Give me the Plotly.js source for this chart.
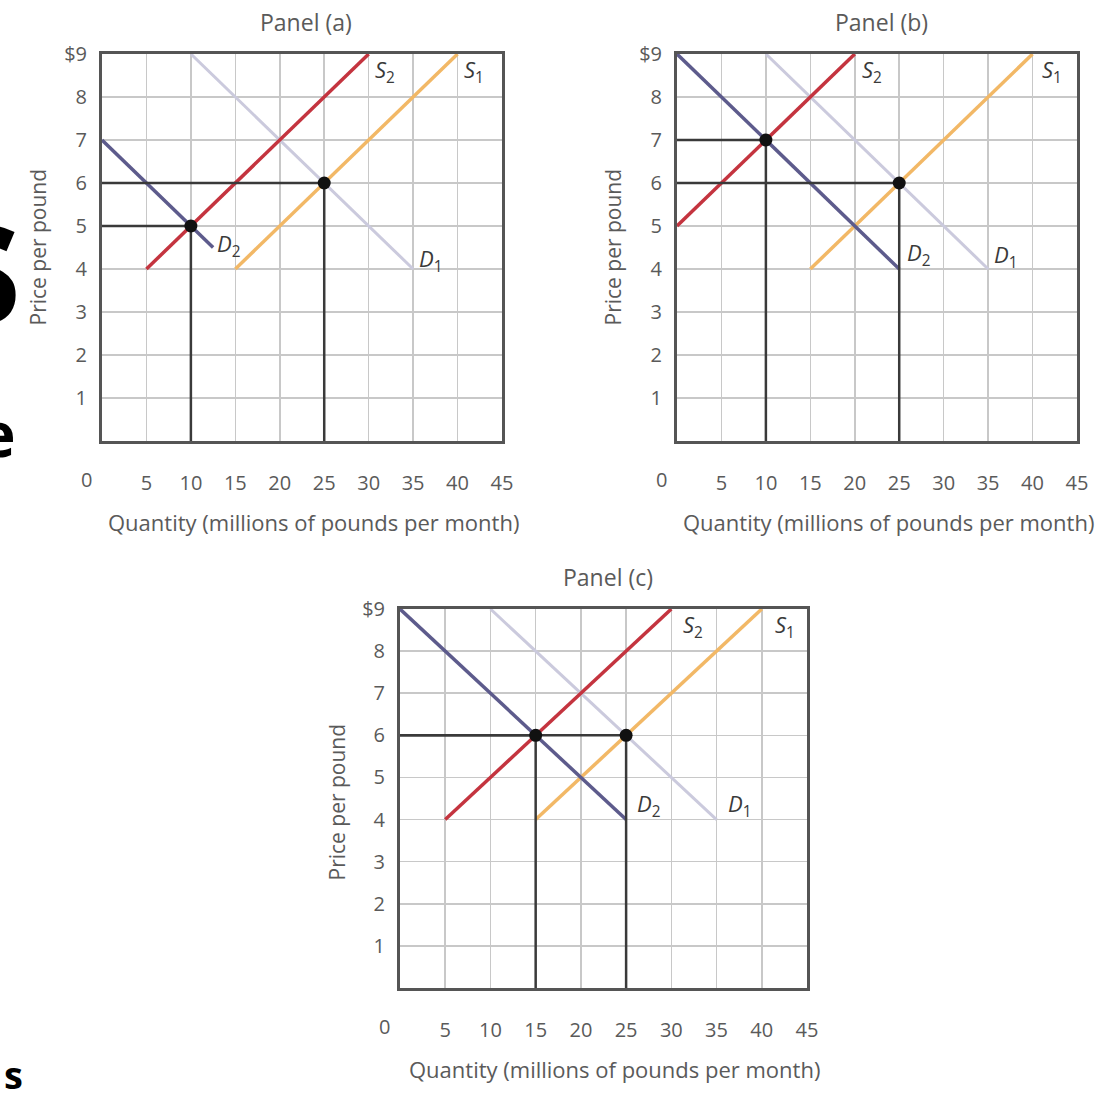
<!DOCTYPE html>
<html>
<head>
<meta charset="utf-8">
<script src="https://cdn.plot.ly/plotly-3.0.1.min.js"></script>
<style>
html,body{margin:0;padding:0;background:#fff;}
#chart{width:1096px;height:1093px;}
</style>
</head>
<body>
<div id="chart"></div>
<script>
// ---------------- DATA ----------------
const panelTitles = ['Panel (a)', 'Panel (b)', 'Panel (c)'];
const xTickVals = [5, 10, 15, 20, 25, 30, 35, 40, 45];
const xTickText = ['5', '10', '15', '20', '25', '30', '35', '40', '45'];
const yTickVals = [1, 2, 3, 4, 5, 6, 7, 8, 9];
const yTickText = ['1', '2', '3', '4', '5', '6', '7', '8', '$9'];
const xTitle = 'Quantity (millions of pounds per month)';
const yTitle = 'Price per pound';

// Supply S1 (same in all panels)
const s1Q = [[15, 40], [15, 40], [15, 40]];
const s1P = [[4, 9], [4, 9], [4, 9]];
// Supply S2
const s2Q = [[5, 30], [0, 20], [5, 30]];
const s2P = [[4, 9], [5, 9], [4, 9]];
// Demand D1 (same in all panels)
const d1Q = [[10, 35], [10, 35], [10, 35]];
const d1P = [[9, 4], [9, 4], [9, 4]];
// Demand D2
const d2Q = [[0, 12.5], [0, 25], [0, 25]];
const d2P = [[7, 4.5], [9, 4], [9, 4]];
// Equilibrium points
const eqQ = [[10, 25], [10, 25], [15, 25]];
const eqP = [[5, 6], [7, 6], [6, 6]];

// ---------------- LAYOUT HELPERS ----------------
const W = 1096, H = 1093;
const px = v => v / W;
const py = v => 1 - v / H;
// plot areas in pixels [left,right], [top,bottom]
const boxX = [[102, 502], [677, 1077], [400, 807]];
const boxY = [[54, 441], [54, 441], [609, 988]];
const labelPos = [
  {S2: [31.8, 8.6], S1: [41.8, 8.6], D2: [14.3, 4.55], D1: [37, 4.2]},
  {S2: [21.9, 8.6], S1: [42.2, 8.6], D2: [27.2, 4.35], D1: [37, 4.3]},
  {S2: [32.4, 8.6], S1: [42.6, 8.6], D2: [27.5, 4.35], D1: [37.6, 4.35]}
];

const fontFam = '"Open Sans", "Noto Sans", sans-serif';
const cS1 = '#f2b866', cS2 = '#c4343f', cD1 = '#cbcadd', cD2 = '#5d5b8c', cRef = '#3a3a3a';
const tickCol = '#5a5a5a', titleCol = '#5a5a5a';

const traces = [];
const annotations = [];
const layout = {
  width: W, height: H,
  margin: {l: 0, r: 0, t: 0, b: 0},
  paper_bgcolor: '#ffffff', plot_bgcolor: '#ffffff',
  showlegend: false,
  font: {family: fontFam, color: tickCol},
  annotations: annotations
};

for (let i = 0; i < 3; i++) {
  const sfx = i === 0 ? '' : String(i + 1);
  const xa = 'x' + sfx, ya = 'y' + sfx;
  layout['xaxis' + sfx] = {
    domain: [px(boxX[i][0]), px(boxX[i][1])],
    range: [0, 45], anchor: ya, fixedrange: true,
    tickvals: xTickVals, ticktext: xTickText,
    showgrid: true, gridcolor: '#c8c8c8', gridwidth: 1.5,
    showline: true, linecolor: '#555555', linewidth: 3, mirror: true,
    zeroline: false, ticks: '', ticklabelstandoff: 22,
    tickfont: {family: fontFam, size: 20, color: tickCol}
  };
  layout['yaxis' + sfx] = {
    domain: [py(boxY[i][1]), py(boxY[i][0])],
    range: [0, 9], anchor: xa, fixedrange: true,
    tickvals: yTickVals, ticktext: yTickText,
    showgrid: true, gridcolor: '#c8c8c8', gridwidth: 1.5,
    showline: true, linecolor: '#555555', linewidth: 3, mirror: true,
    zeroline: false, ticks: '', ticklabelstandoff: 8,
    tickfont: {family: fontFam, size: 20, color: tickCol}
  };

  const line = (q, p, color, width) => ({
    type: 'scatter', mode: 'lines', x: q, y: p, xaxis: xa, yaxis: ya,
    line: {color: color, width: width}, cliponaxis: false, hoverinfo: 'skip'
  });
  traces.push(line(d1Q[i], d1P[i], cD1, 3));
  traces.push(line(s1Q[i], s1P[i], cS1, 3.5));
  traces.push(line(s2Q[i], s2P[i], cS2, 3.5));
  traces.push(line(d2Q[i], d2P[i], cD2, 3.5));
  // reference lines from equilibrium points to the axes
  for (let k = 0; k < eqQ[i].length; k++) {
    const q = eqQ[i][k], p = eqP[i][k];
    traces.push(line([0, q, q], [p, p, 0], cRef, 2.5));
  }
  traces.push({
    type: 'scatter', mode: 'markers', x: eqQ[i], y: eqP[i], xaxis: xa, yaxis: ya,
    marker: {color: '#111111', size: 13}, cliponaxis: false, hoverinfo: 'skip'
  });

  // curve labels
  const lp = labelPos[i];
  const lab = (txt, pos) => annotations.push({
    xref: xa, yref: ya, x: pos[0], y: pos[1], text: txt, showarrow: false,
    xanchor: 'center', yanchor: 'middle',
    font: {family: fontFam, size: 22, color: '#3a3a3a'}
  });
  lab('<i>S</i><sub>2</sub>', lp.S2);
  lab('<i>S</i><sub>1</sub>', lp.S1);
  lab('<i>D</i><sub>2</sub>', lp.D2);
  lab('<i>D</i><sub>1</sub>', lp.D1);

  // origin "0" label
  annotations.push({
    xref: xa, yref: ya, x: 0, y: 0, text: '0', showarrow: false,
    xanchor: 'right', yanchor: 'top', xshift: -8, yshift: -23,
    font: {family: fontFam, size: 20, color: tickCol}
  });
  // panel title
  const cx = (boxX[i][0] + boxX[i][1]) / 2;
  annotations.push({
    xref: 'paper', yref: 'paper', x: px(cx + 4), y: py(boxY[i][0] - 32),
    text: panelTitles[i], showarrow: false, xanchor: 'center', yanchor: 'middle',
    font: {family: fontFam, size: 23, color: titleCol}
  });
  // x title
  annotations.push({
    xref: 'paper', yref: 'paper', x: px(cx + 11), y: py(boxY[i][1] + 81),
    text: xTitle, showarrow: false, xanchor: 'center', yanchor: 'middle',
    font: {family: fontFam, size: 22, color: titleCol}
  });
  // y title
  annotations.push({
    xref: 'paper', yref: 'paper', x: px(boxX[i][0] - 64), y: py((boxY[i][0] + boxY[i][1]) / 2 + (i === 2 ? 4 : 0)),
    text: yTitle, showarrow: false, textangle: -90, xanchor: 'center', yanchor: 'middle',
    font: {family: fontFam, size: 21, color: titleCol}
  });
}

// cropped fragments of surrounding page text at the left edge
const fragFont = '"Open Sans", sans-serif';
annotations.push({xref: 'paper', yref: 'paper', x: px(24), y: py(255), xanchor: 'right', yanchor: 'middle',
  text: '<b>s</b>', showarrow: false, font: {family: fragFont, size: 180, color: '#000'}});
annotations.push({xref: 'paper', yref: 'paper', x: px(18), y: py(433), xanchor: 'right', yanchor: 'middle',
  text: '<b>e</b>', showarrow: false, font: {family: fragFont, size: 62, color: '#000'}});
annotations.push({xref: 'paper', yref: 'paper', x: px(2), y: py(1074), xanchor: 'left', yanchor: 'middle',
  text: '<b>s</b>', showarrow: false, font: {family: fragFont, size: 38, color: '#000'}});

Plotly.newPlot('chart', traces, layout, {displayModeBar: false, staticPlot: true});
</script>
</body>
</html>
